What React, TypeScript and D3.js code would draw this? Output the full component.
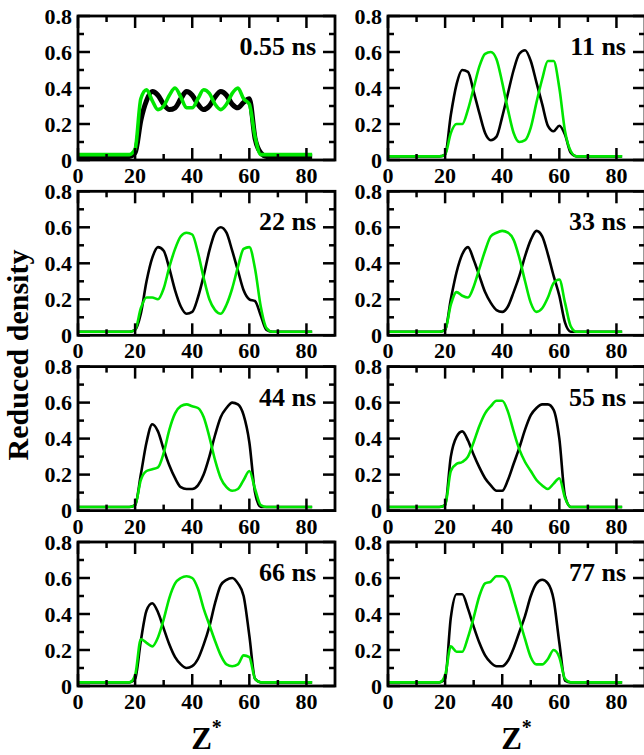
import React from "react"
import * as d3 from "d3"

// z* sample positions (same grid for every profile)
const zStar = [0, 2, 4, 6, 8, 10, 12, 14, 16, 18, 20, 22, 24, 26, 28, 30, 32, 34, 36, 38, 40, 42, 44, 46, 48, 50, 52, 54, 56, 58, 60, 62, 64, 66, 68, 70, 72, 74, 76, 78, 80, 82]

// reduced density profiles (black / green species)
const black055 = [0.02, 0.02, 0.02, 0.02, 0.02, 0.02, 0.02, 0.02, 0.02, 0.02, 0.04, 0.22, 0.33, 0.38, 0.36, 0.31, 0.28, 0.29, 0.34, 0.38, 0.36, 0.31, 0.28, 0.30, 0.35, 0.38, 0.36, 0.31, 0.29, 0.32, 0.34, 0.12, 0.04, 0.02, 0.02, 0.02, 0.02, 0.02, 0.02, 0.02, 0.02, 0.02]
const green055 = [0.03, 0.03, 0.03, 0.03, 0.03, 0.03, 0.03, 0.03, 0.03, 0.03, 0.06, 0.34, 0.39, 0.33, 0.28, 0.30, 0.36, 0.40, 0.35, 0.29, 0.29, 0.34, 0.39, 0.37, 0.31, 0.28, 0.31, 0.37, 0.40, 0.34, 0.31, 0.13, 0.03, 0.03, 0.03, 0.03, 0.03, 0.03, 0.03, 0.03, 0.03, 0.03]

const black11 = [0.02, 0.02, 0.02, 0.02, 0.02, 0.02, 0.02, 0.02, 0.02, 0.02, 0.03, 0.25, 0.42, 0.50, 0.49, 0.38, 0.26, 0.15, 0.11, 0.13, 0.24, 0.37, 0.50, 0.59, 0.61, 0.55, 0.43, 0.31, 0.19, 0.16, 0.19, 0.14, 0.04, 0.02, 0.02, 0.02, 0.02, 0.02, 0.02, 0.02, 0.02, 0.02]
const green11 = [0.02, 0.02, 0.02, 0.02, 0.02, 0.02, 0.02, 0.02, 0.02, 0.02, 0.03, 0.15, 0.20, 0.20, 0.28, 0.40, 0.52, 0.59, 0.60, 0.56, 0.43, 0.28, 0.15, 0.10, 0.11, 0.18, 0.32, 0.45, 0.55, 0.55, 0.40, 0.16, 0.05, 0.02, 0.02, 0.02, 0.02, 0.02, 0.02, 0.02, 0.02, 0.02]

const black22 = [0.02, 0.02, 0.02, 0.02, 0.02, 0.02, 0.02, 0.02, 0.02, 0.02, 0.03, 0.12, 0.30, 0.43, 0.49, 0.47, 0.37, 0.25, 0.16, 0.12, 0.13, 0.21, 0.33, 0.47, 0.57, 0.60, 0.57, 0.47, 0.36, 0.25, 0.20, 0.19, 0.11, 0.03, 0.02, 0.02, 0.02, 0.02, 0.02, 0.02, 0.02, 0.02]
const green22 = [0.02, 0.02, 0.02, 0.02, 0.02, 0.02, 0.02, 0.02, 0.02, 0.02, 0.03, 0.15, 0.21, 0.21, 0.20, 0.26, 0.38, 0.48, 0.55, 0.57, 0.56, 0.46, 0.32, 0.20, 0.14, 0.12, 0.17, 0.26, 0.38, 0.48, 0.49, 0.37, 0.16, 0.04, 0.02, 0.02, 0.02, 0.02, 0.02, 0.02, 0.02, 0.02]

const black33 = [0.02, 0.02, 0.02, 0.02, 0.02, 0.02, 0.02, 0.02, 0.02, 0.02, 0.03, 0.20, 0.35, 0.45, 0.49, 0.42, 0.33, 0.24, 0.18, 0.14, 0.13, 0.16, 0.24, 0.33, 0.44, 0.53, 0.58, 0.55, 0.45, 0.33, 0.22, 0.07, 0.02, 0.02, 0.02, 0.02, 0.02, 0.02, 0.02, 0.02, 0.02, 0.02]
const green33 = [0.02, 0.02, 0.02, 0.02, 0.02, 0.02, 0.02, 0.02, 0.02, 0.02, 0.03, 0.17, 0.24, 0.22, 0.21, 0.27, 0.37, 0.47, 0.55, 0.57, 0.58, 0.57, 0.53, 0.43, 0.30, 0.18, 0.13, 0.15, 0.21, 0.29, 0.31, 0.18, 0.05, 0.02, 0.02, 0.02, 0.02, 0.02, 0.02, 0.02, 0.02, 0.02]

const black44 = [0.02, 0.02, 0.02, 0.02, 0.02, 0.02, 0.02, 0.02, 0.02, 0.02, 0.03, 0.20, 0.38, 0.48, 0.44, 0.34, 0.25, 0.18, 0.13, 0.12, 0.12, 0.14, 0.20, 0.30, 0.42, 0.52, 0.57, 0.60, 0.59, 0.53, 0.38, 0.10, 0.02, 0.02, 0.02, 0.02, 0.02, 0.02, 0.02, 0.02, 0.02, 0.02]
const green44 = [0.02, 0.02, 0.02, 0.02, 0.02, 0.02, 0.02, 0.02, 0.02, 0.02, 0.03, 0.17, 0.22, 0.23, 0.24, 0.32, 0.45, 0.54, 0.58, 0.59, 0.58, 0.57, 0.52, 0.41, 0.28, 0.18, 0.13, 0.11, 0.12, 0.17, 0.22, 0.12, 0.03, 0.02, 0.02, 0.02, 0.02, 0.02, 0.02, 0.02, 0.02, 0.02]

const black55 = [0.02, 0.02, 0.02, 0.02, 0.02, 0.02, 0.02, 0.02, 0.02, 0.02, 0.03, 0.30, 0.41, 0.44, 0.39, 0.31, 0.24, 0.18, 0.14, 0.11, 0.11, 0.17, 0.26, 0.35, 0.45, 0.53, 0.57, 0.59, 0.59, 0.56, 0.40, 0.08, 0.02, 0.02, 0.02, 0.02, 0.02, 0.02, 0.02, 0.02, 0.02, 0.02]
const green55 = [0.02, 0.02, 0.02, 0.02, 0.02, 0.02, 0.02, 0.02, 0.02, 0.02, 0.03, 0.22, 0.26, 0.27, 0.30, 0.38, 0.47, 0.54, 0.58, 0.61, 0.61, 0.55, 0.44, 0.34, 0.27, 0.22, 0.17, 0.14, 0.12, 0.15, 0.18, 0.07, 0.02, 0.02, 0.02, 0.02, 0.02, 0.02, 0.02, 0.02, 0.02, 0.02]

const black66 = [0.02, 0.02, 0.02, 0.02, 0.02, 0.02, 0.02, 0.02, 0.02, 0.02, 0.04, 0.25, 0.42, 0.46, 0.41, 0.32, 0.23, 0.16, 0.12, 0.10, 0.11, 0.15, 0.23, 0.33, 0.46, 0.56, 0.59, 0.60, 0.57, 0.50, 0.28, 0.04, 0.02, 0.02, 0.02, 0.02, 0.02, 0.02, 0.02, 0.02, 0.02, 0.02]
const green66 = [0.02, 0.02, 0.02, 0.02, 0.02, 0.02, 0.02, 0.02, 0.02, 0.02, 0.06, 0.26, 0.24, 0.22, 0.27, 0.37, 0.49, 0.57, 0.60, 0.61, 0.60, 0.54, 0.43, 0.34, 0.25, 0.17, 0.12, 0.11, 0.12, 0.17, 0.16, 0.04, 0.02, 0.02, 0.02, 0.02, 0.02, 0.02, 0.02, 0.02, 0.02, 0.02]

const black77 = [0.02, 0.02, 0.02, 0.02, 0.02, 0.02, 0.02, 0.02, 0.02, 0.02, 0.04, 0.38, 0.51, 0.51, 0.43, 0.33, 0.24, 0.17, 0.13, 0.11, 0.11, 0.14, 0.21, 0.30, 0.39, 0.50, 0.57, 0.59, 0.57, 0.48, 0.24, 0.03, 0.02, 0.02, 0.02, 0.02, 0.02, 0.02, 0.02, 0.02, 0.02, 0.02]
const green77 = [0.02, 0.02, 0.02, 0.02, 0.02, 0.02, 0.02, 0.02, 0.02, 0.02, 0.06, 0.22, 0.19, 0.19, 0.27, 0.38, 0.50, 0.57, 0.58, 0.61, 0.61, 0.58, 0.48, 0.37, 0.26, 0.16, 0.12, 0.12, 0.15, 0.20, 0.16, 0.04, 0.02, 0.02, 0.02, 0.02, 0.02, 0.02, 0.02, 0.02, 0.02, 0.02]

const panelLabels = ["0.55 ns", "11 ns", "22 ns", "33 ns", "44 ns", "55 ns", "66 ns", "77 ns"]
const blackSeries = [black055, black11, black22, black33, black44, black55, black66, black77]
const greenSeries = [green055, green11, green22, green33, green44, green55, green66, green77]

const xTicks = [0, 20, 40, 60, 80]
const xMinor = [10, 30, 50, 70]
const yTicks = [0, 0.2, 0.4, 0.6, 0.8]
const yMinor = [0.1, 0.3, 0.5, 0.7]

const W = 644
const H = 755
const colX = [78, 388]
const rowY = [16, 191.3, 366.6, 542]
const pw = 257
const ph = 144
const font = "'Liberation Serif', 'Times New Roman', serif"
const GREEN = "#00e600"

const Panel = ({ idx }: { idx: number }) => {
    const left = colX[idx % 2]
    const top = rowY[Math.floor(idx / 2)]
    const x = d3.scaleLinear().domain([0, 90]).range([0, pw])
    const y = d3.scaleLinear().domain([0, 0.8]).range([ph, 0])

    const line = d3.line<number>()
        .x((d, i) => x(zStar[i]))
        .y(d => y(d))
        .curve(d3.curveMonotoneX)

    const first = idx === 0
    const fmt = (v: number) => v === 0 ? "0" : d3.format(".1f")(v)

    return (
        <g transform={`translate(${left},${top})`}>
            <path d={line(blackSeries[idx]) || ""} fill="none" stroke="#000" strokeWidth={first ? 5 : 2.6} strokeLinejoin="round" />
            <path d={line(greenSeries[idx]) || ""} fill="none" stroke={GREEN} strokeWidth={first ? 3.6 : 2.6} strokeLinejoin="round" />

            {/* inward ticks on all four sides */}
            {xTicks.map(t => (
                <g key={"xt" + t}>
                    <line x1={x(t)} x2={x(t)} y1={ph} y2={ph - 12} stroke="#000" strokeWidth={2.5} />
                    <line x1={x(t)} x2={x(t)} y1={0} y2={12} stroke="#000" strokeWidth={2.5} />
                </g>
            ))}
            {xMinor.map(t => (
                <g key={"xm" + t}>
                    <line x1={x(t)} x2={x(t)} y1={ph} y2={ph - 6} stroke="#000" strokeWidth={2.5} />
                    <line x1={x(t)} x2={x(t)} y1={0} y2={6} stroke="#000" strokeWidth={2.5} />
                </g>
            ))}
            {yTicks.map(t => (
                <g key={"yt" + t}>
                    <line x1={0} x2={12} y1={y(t)} y2={y(t)} stroke="#000" strokeWidth={2.5} />
                    <line x1={pw} x2={pw - 12} y1={y(t)} y2={y(t)} stroke="#000" strokeWidth={2.5} />
                </g>
            ))}
            {yMinor.map(t => (
                <g key={"ym" + t}>
                    <line x1={0} x2={6} y1={y(t)} y2={y(t)} stroke="#000" strokeWidth={2.5} />
                    <line x1={pw} x2={pw - 6} y1={y(t)} y2={y(t)} stroke="#000" strokeWidth={2.5} />
                </g>
            ))}
            <rect x={0} y={0} width={pw} height={ph} fill="none" stroke="#000" strokeWidth={2.8} />

            <g fontFamily={font} fontWeight="bold" fontSize={22} fill="#000">
                {xTicks.map(t => (
                    <text key={"xl" + t} x={x(t)} y={ph + 23} textAnchor="middle">{t}</text>
                ))}
                {yTicks.map(t => (
                    <text key={"yl" + t} x={-6} y={y(t)} dy="0.35em" textAnchor="end">{fmt(t)}</text>
                ))}
            </g>
            <text x={pw - 19} y={y(0.6) + 3} textAnchor="end" fontFamily={font} fontWeight="bold" fontSize={26}>
                {panelLabels[idx]}
            </text>
        </g>
    )
}

export default function App() {
    return (
        <svg width={W} height={H} style={{ position: "absolute", left: 0, top: 0, background: "#fff" }}>
            {panelLabels.map((_, i) => <Panel key={i} idx={i} />)}
            <text transform="translate(28,355) rotate(-90)" textAnchor="middle" fontFamily={font} fontWeight="bold" fontSize={30}>
                Reduced density
            </text>
            {colX.map((cx, i) => (
                <text key={"zl" + i} x={cx + pw / 2} y={749} textAnchor="middle" fontFamily={font} fontWeight="bold" fontSize={31}>
                    Z<tspan fontSize={20} dy={-15}>*</tspan>
                </text>
            ))}
        </svg>
    )
}
